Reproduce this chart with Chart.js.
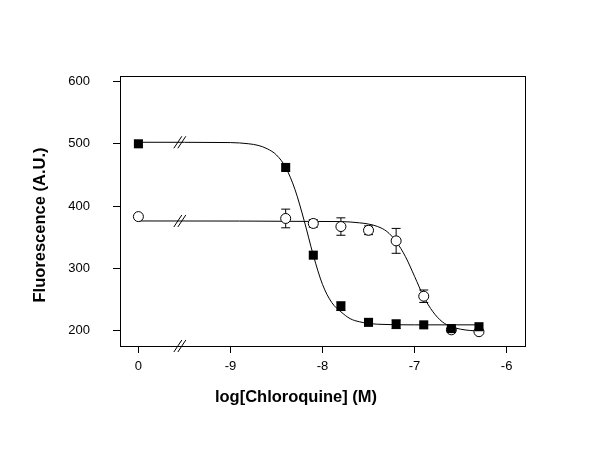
<!DOCTYPE html>
<html>
<head>
<meta charset="utf-8">
<script src="https://cdn.jsdelivr.net/npm/chart.js@4.4.1/dist/chart.umd.min.js"></script>
<style>
  body { margin: 0; background: #fff; }
  canvas { display: block; }
</style>
</head>
<body>
<canvas id="chart" width="600" height="450"></canvas>
<script>
// concentrations as log[M]; 0 = no drug, drawn left of the axis break
const concLog = [0, -8.4, -8.1, -7.8, -7.5, -7.2, -6.9, -6.6, -6.3];

// filled squares
const squareVals = [500, 462, 321, 239, 213, 210, 209, 203, 206];
const squareErr = [0, 0, 0, 7, 0, 7, 0, 0, 0];

// open circles
const circleVals = [383, 380, 372, 367, 361, 344, 255, 201, 198];
const circleErr = [0, 15, 6, 14, 7, 20, 10, 0, 0];

// fitted curves
const squareFitX = [0, -9.0, -8.8, -8.7, -8.6, -8.5, -8.4, -8.3, -8.2, -8.1, -8.0, -7.9, -7.8, -7.7, -7.6, -7.4, -7.0, -6.3];
const squareFitY = [502.5, 502, 500, 497.5, 492, 482, 462, 427, 377, 321, 274, 245, 230, 219, 214, 210, 209, 209];
const circleFitX = [0, -7.8, -7.6, -7.5, -7.4, -7.3, -7.2, -7.1, -7.0, -6.9, -6.8, -6.7, -6.6, -6.5, -6.4, -6.3];
const circleFitY = [376, 375, 373, 371, 367, 359, 343, 319, 287, 254, 230, 214, 206, 202, 200, 199];

const xTicks = [0, -9, -8, -7, -6];
const yTicks = [200, 300, 400, 500, 600];

const xTitle = 'log[Chloroquine] (M)';
const yTitle = 'Fluorescence (A.U.)';

// axis break: "0" sits one decade left of -9
const ZERO_POS = -10;
const BREAK_POS = -9.55;
const axisX = v => (v === 0 ? ZERO_POS : v);

const toPts = (xs, ys) => xs.map((x, i) => ({ x: axisX(x), y: ys[i] }));

// error bars with caps, drawn behind the markers
const errorBars = {
  id: 'errorBars',
  beforeDatasetsDraw(chart) {
    const { ctx, scales: { x, y } } = chart;
    const sets = [[squareVals, squareErr], [circleVals, circleErr]];
    ctx.save();
    ctx.strokeStyle = '#000';
    ctx.lineWidth = 1;
    sets.forEach(([vals, errs]) => {
      vals.forEach((v, i) => {
        if (!errs[i]) return;
        const px = x.getPixelForValue(axisX(concLog[i]));
        const top = y.getPixelForValue(v + errs[i]);
        const bot = y.getPixelForValue(v - errs[i]);
        ctx.beginPath();
        ctx.moveTo(px, top); ctx.lineTo(px, bot);
        ctx.moveTo(px - 4.5, top); ctx.lineTo(px + 4.5, top);
        ctx.moveTo(px - 4.5, bot); ctx.lineTo(px + 4.5, bot);
        ctx.stroke();
      });
    });
    ctx.restore();
  }
};

// box around plot, break marks, axis titles (placed like the original, a bit off-centre)
const frameAndBreaks = {
  id: 'frameAndBreaks',
  afterDraw(chart) {
    const { ctx, chartArea: a, scales: { x, y } } = chart;
    ctx.save();
    ctx.strokeStyle = '#000';
    ctx.lineWidth = 1;
    ctx.strokeRect(a.left + 0.5, a.top + 0.5, a.right - a.left, a.bottom - a.top);

    const bx = x.getPixelForValue(BREAK_POS);
    const marks = [a.bottom, y.getPixelForValue(squareFitY[0]), y.getPixelForValue(circleFitY[0])];
    marks.forEach(my => {
      ctx.beginPath();
      [-2, 2].forEach(dx => {
        ctx.moveTo(bx + dx - 4, my + 6);
        ctx.lineTo(bx + dx + 4, my - 6);
      });
      ctx.stroke();
    });

    ctx.fillStyle = '#000';
    ctx.font = 'bold 16.5px "Liberation Sans", Arial, sans-serif';
    ctx.textAlign = 'center';
    ctx.textBaseline = 'middle';
    ctx.fillText(xTitle, 296, 397);
    ctx.translate(40, 225);
    ctx.rotate(-Math.PI / 2);
    ctx.fillText(yTitle, 0, 0);
    ctx.restore();
  }
};

new Chart(document.getElementById('chart'), {
  type: 'scatter',
  data: {
    datasets: [
      {
        label: 'fit squares',
        data: toPts(squareFitX, squareFitY),
        showLine: true,
        borderColor: '#000',
        borderWidth: 1,
        pointRadius: 0,
        cubicInterpolationMode: 'monotone',
        order: 4
      },
      {
        label: 'fit circles',
        data: toPts(circleFitX, circleFitY),
        showLine: true,
        borderColor: '#000',
        borderWidth: 1,
        pointRadius: 0,
        cubicInterpolationMode: 'monotone',
        order: 3
      },
      {
        label: 'circles',
        data: toPts(concLog, circleVals),
        pointStyle: 'circle',
        pointRadius: 5,
        backgroundColor: '#fff',
        borderColor: '#000',
        borderWidth: 1,
        order: 2
      },
      {
        label: 'squares',
        data: toPts(concLog, squareVals),
        pointStyle: 'rect',
        pointRadius: 6.4,
        backgroundColor: '#000',
        borderColor: '#000',
        borderWidth: 0,
        order: 1
      }
    ]
  },
  options: {
    responsive: false,
    animation: false,
    layout: { padding: { left: 0, top: 76, right: 75, bottom: 0 } },
    plugins: {
      legend: { display: false },
      tooltip: { enabled: false }
    },
    scales: {
      x: {
        type: 'linear',
        min: -10.2,
        max: -5.8,
        afterFit: s => { s.height = 104; },
        afterBuildTicks: s => { s.ticks = xTicks.map(v => ({ value: axisX(v) })); },
        ticks: {
          color: '#000',
          font: { family: 'Liberation Sans, Arial', size: 13 },
          padding: 6,
          callback: v => (v === ZERO_POS ? '0' : String(v))
        },
        grid: { drawOnChartArea: false, drawTicks: true, tickLength: 7, color: '#000' },
        border: { color: '#000', width: 1 }
      },
      y: {
        type: 'linear',
        min: 175,
        max: 609,
        afterFit: s => { s.width = 120; },
        afterBuildTicks: s => { s.ticks = yTicks.map(v => ({ value: v })); },
        ticks: {
          color: '#000',
          font: { family: 'Liberation Sans, Arial', size: 13 },
          padding: 23
        },
        grid: { drawOnChartArea: false, drawTicks: true, tickLength: 7, color: '#000' },
        border: { color: '#000', width: 1 }
      }
    }
  },
  plugins: [errorBars, frameAndBreaks]
});
</script>
</body>
</html>
